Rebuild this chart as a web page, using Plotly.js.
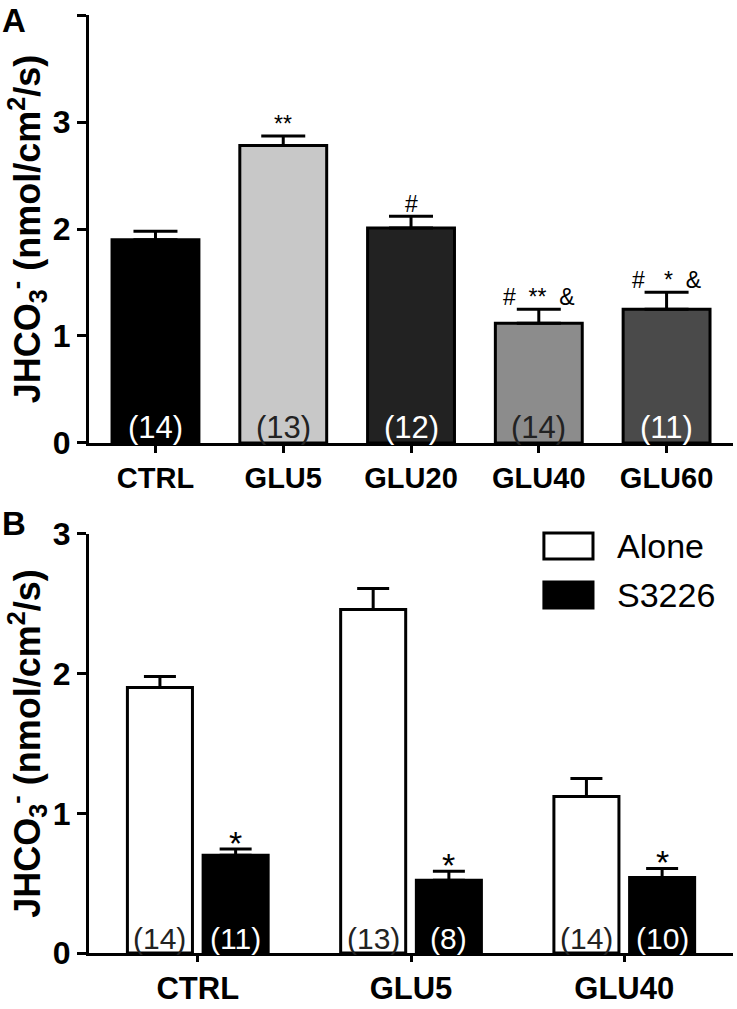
<!DOCTYPE html>
<html>
<head>
<meta charset="utf-8">
<script src="https://cdn.plot.ly/plotly-3.0.1.min.js"></script>
<style>html,body{margin:0;padding:0;background:#fff;}#chart{width:737px;height:1009px;}</style>
</head>
<body>
<div id="chart"></div>
<script>
// ---- Panel A data ----
const catsA = ['CTRL', 'GLU5', 'GLU20', 'GLU40', 'GLU60'];
const valsA = [1.90, 2.78, 2.01, 1.12, 1.25];
const errA = [0.08, 0.09, 0.11, 0.13, 0.16];
const nA = ['(14)', '(13)', '(12)', '(14)', '(11)'];
const sigA = ['', '**', '#', '#\u00a0\u00a0**\u00a0\u00a0&', '#\u00a0\u00a0\u00a0*\u00a0\u00a0&'];
const colorsA = ['#000000', '#c8c8c8', '#222222', '#8c8c8c', '#4a4a4a'];
const nColorsA = ['#ffffff', '#222222', '#ffffff', '#222222', '#ffffff'];

// ---- Panel B data ----
const catsB = ['CTRL', 'GLU5', 'GLU40'];
const seriesNames = ['Alone', 'S3226'];
const aloneB = [1.90, 2.46, 1.12];
const aloneErrB = [0.08, 0.15, 0.13];
const s3226B = [0.70, 0.52, 0.54];
const s3226ErrB = [0.045, 0.065, 0.065];
const nAloneB = ['(14)', '(13)', '(14)'];
const nS3226B = ['(11)', '(8)', '(10)'];
const sigS3226B = ['*', '*', '*'];

const FONT = 'Liberation Sans, Arial, Helvetica, sans-serif';
const BW = 0.305;           // bar width in panel B (category units)
const OFF = [-0.33, 0.025]; // offsets for Alone / S3226

const traces = [
  {
    type: 'bar', x: catsA, y: valsA, xaxis: 'x', yaxis: 'y', width: 0.68,
    marker: {color: colorsA, line: {color: '#000', width: 3}},
    error_y: {type: 'data', symmetric: false, array: errA, arrayminus: valsA.map(() => 0),
              color: '#000', thickness: 3, width: 22},
    showlegend: false
  },
  {
    type: 'bar', name: seriesNames[0], x: catsB, y: aloneB, xaxis: 'x2', yaxis: 'y2',
    width: BW, offset: OFF[0],
    marker: {color: '#ffffff', line: {color: '#000', width: 3}},
    error_y: {type: 'data', symmetric: false, array: aloneErrB, arrayminus: aloneB.map(() => 0),
              color: '#000', thickness: 3, width: 16},
    showlegend: false
  },
  {
    type: 'bar', name: seriesNames[1], x: catsB, y: s3226B, xaxis: 'x2', yaxis: 'y2',
    width: BW, offset: OFF[1],
    marker: {color: '#000000', line: {color: '#000', width: 3}},
    error_y: {type: 'data', symmetric: false, array: s3226ErrB, arrayminus: s3226B.map(() => 0),
              color: '#000', thickness: 3, width: 16},
    showlegend: false
  }
];

const annotations = [];
// n counts and significance marks, panel A
catsA.forEach((c, i) => {
  annotations.push({xref: 'x', yref: 'y', x: c, y: 0, yanchor: 'bottom', text: nA[i], showarrow: false,
    font: {family: FONT, size: 31, color: nColorsA[i]}, yshift: -4});
  if (sigA[i]) annotations.push({xref: 'x', yref: 'y', x: c, y: valsA[i] + errA[i], yanchor: 'bottom',
    text: sigA[i], showarrow: false, font: {family: FONT, size: 23, color: '#000'}, yshift: -3});
});
// panel B
catsB.forEach((c, i) => {
  const xa = i + OFF[0] + BW / 2, xs = i + OFF[1] + BW / 2;
  annotations.push({xref: 'x2', yref: 'y2', x: xa, y: 0, yanchor: 'bottom', text: nAloneB[i], showarrow: false,
    font: {family: FONT, size: 30, color: '#222'}, yshift: -4});
  annotations.push({xref: 'x2', yref: 'y2', x: xs, y: 0, yanchor: 'bottom', text: nS3226B[i], showarrow: false,
    font: {family: FONT, size: 30, color: '#fff'}, yshift: -4});
  annotations.push({xref: 'x2', yref: 'y2', x: xs, y: s3226B[i] + s3226ErrB[i], yanchor: 'bottom',
    text: sigS3226B[i], showarrow: false, font: {family: FONT, size: 34, color: '#000'}, yshift: -15});
});
// panel labels
annotations.push({xref: 'paper', yref: 'paper', x: 0.0, y: 1.0, xanchor: 'left', yanchor: 'top',
  text: '<b>A</b>', showarrow: false, font: {family: FONT, size: 33, color: '#000'}});
annotations.push({xref: 'paper', yref: 'paper', x: 0.0, y: 0.501, xanchor: 'left', yanchor: 'top',
  text: '<b>B</b>', showarrow: false, font: {family: FONT, size: 33, color: '#000'}});
// custom legend text
annotations.push({xref: 'paper', yref: 'paper', x: 0.834, y: 0.4589, xanchor: 'left', yanchor: 'middle',
  text: seriesNames[0], showarrow: false, font: {family: FONT, size: 34, color: '#000'}});
annotations.push({xref: 'paper', yref: 'paper', x: 0.834, y: 0.4103, xanchor: 'left', yanchor: 'middle',
  text: seriesNames[1], showarrow: false, font: {family: FONT, size: 34, color: '#000'}});

const shapes = [
  {type: 'rect', xref: 'paper', yref: 'paper', x0: 0.738, x1: 0.8046, y0: 0.446, y1: 0.4718,
   fillcolor: '#fff', line: {color: '#000', width: 3}},
  {type: 'rect', xref: 'paper', yref: 'paper', x0: 0.738, x1: 0.8046, y0: 0.3974, y1: 0.4232,
   fillcolor: '#000', line: {color: '#000', width: 3}}
];

const ytitle = '<b>JHCO<sub>3</sub><sup>-</sup> (nmol/cm<sup>2</sup>/s)</b>';
const axisCommon = {showline: true, linecolor: '#000', linewidth: 3, ticks: 'outside', tickwidth: 3,
  tickcolor: '#000', showgrid: false, zeroline: false, fixedrange: true};

const layout = {
  width: 737, height: 1009,
  margin: {l: 0, r: 0, t: 0, b: 0},
  paper_bgcolor: '#fff', plot_bgcolor: '#fff',
  barmode: 'overlay',
  showlegend: false,
  font: {family: FONT, color: '#000'},
  xaxis: Object.assign({}, axisCommon, {domain: [0.1208, 0.9946], anchor: 'y', range: [-0.52, 4.52],
    ticklen: 7, tickfont: {family: FONT, size: 29, color: '#000', weight: 'bold'}}),
  yaxis: Object.assign({}, axisCommon, {domain: [0.561, 0.985], anchor: 'x', range: [0, 4], dtick: 1,
    ticklen: 9, tickfont: {family: FONT, size: 32, color: '#000', weight: 'bold'},
    title: {text: ytitle, font: {family: FONT, size: 36, color: '#000'}, standoff: 2}}),
  xaxis2: Object.assign({}, axisCommon, {domain: [0.1208, 0.9946], anchor: 'y2', range: [-0.51, 2.51],
    ticklen: 6, tickfont: {family: FONT, size: 31, color: '#000', weight: 'bold'}}),
  yaxis2: Object.assign({}, axisCommon, {domain: [0.0555, 0.4708], anchor: 'x2', range: [0, 3], dtick: 1,
    ticklen: 9, tickfont: {family: FONT, size: 32, color: '#000', weight: 'bold'},
    title: {text: ytitle, font: {family: FONT, size: 36, color: '#000'}, standoff: 2}}),
  annotations: annotations,
  shapes: shapes
};

Plotly.newPlot('chart', traces, layout, {staticPlot: true, displayModeBar: false});
</script>
</body>
</html>
